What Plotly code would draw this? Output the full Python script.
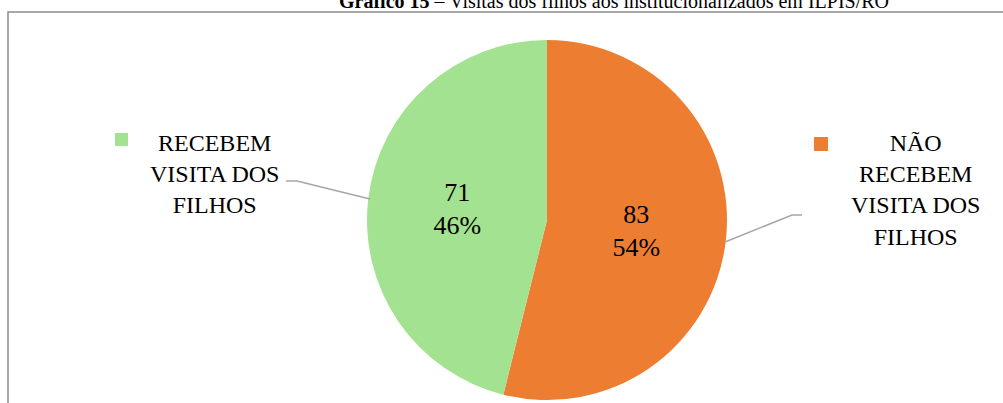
import plotly.graph_objects as go

# Visits from children to residents of long-stay institutions (ILPIs/RO)
categories = ["NÃO RECEBEM VISITA DOS FILHOS", "RECEBEM VISITA DOS FILHOS"]
values = [83, 71]
colors = ["#ED7D31", "#A2E290"]

W, H = 1003, 403
SERIF = "Liberation Serif"


def px(x):
    return x / W


def py(y):
    return 1 - y / H


# pie placement (pixels): centre and radius
cx, cy, r = 547, 220, 180

fig = go.Figure(
    go.Pie(
        labels=categories,
        values=values,
        sort=False,
        direction="clockwise",
        rotation=0,
        marker=dict(colors=colors, line=dict(width=0)),
        texttemplate="%{value}<br>%{percent:.0%}",
        textposition="inside",
        insidetextorientation="horizontal",
        textfont=dict(family=SERIF, size=26, color="#000000"),
        showlegend=False,
        hoverinfo="label+value+percent",
        domain=dict(x=[px(cx - r), px(cx + r)], y=[py(cy + r), py(cy - r)]),
    )
)

shapes = [
    # chart frame
    dict(type="rect", xref="paper", yref="paper",
         x0=px(8), x1=px(1012), y0=py(12), y1=py(415),
         line=dict(color="#8C8C8C", width=1.5), fillcolor="rgba(0,0,0,0)", layer="below"),
    # leader line to the left label
    dict(type="path", xref="paper", yref="paper",
         path=f"M {px(370)},{py(199)} L {px(297)},{py(181)} L {px(286)},{py(181)}",
         line=dict(color="#A6A6A6", width=1.5)),
    # leader line to the right label
    dict(type="path", xref="paper", yref="paper",
         path=f"M {px(725)},{py(242)} L {px(792)},{py(215)} L {px(802)},{py(215)}",
         line=dict(color="#A6A6A6", width=1.5)),
    # legend keys
    dict(type="rect", xref="paper", yref="paper",
         x0=px(115), x1=px(128), y0=py(146), y1=py(133),
         fillcolor=colors[1], line=dict(width=0)),
    dict(type="rect", xref="paper", yref="paper",
         x0=px(814), x1=px(828), y0=py(151), y1=py(137),
         fillcolor=colors[0], line=dict(width=0)),
]

label_font = dict(family=SERIF, size=24, color="#000000")
annotations = [
    dict(text="RECEBEM<br>VISITA DOS<br>FILHOS", x=px(214), y=py(174),
         xref="paper", yref="paper", xanchor="center", yanchor="middle",
         showarrow=False, font=label_font, align="center"),
    dict(text="NÃO<br>RECEBEM<br>VISITA DOS<br>FILHOS", x=px(915), y=py(190),
         xref="paper", yref="paper", xanchor="center", yanchor="middle",
         showarrow=False, font=label_font, align="center"),
    dict(text="<b>Gráfico 15</b> – Visitas dos filhos aos institucionalizados em ILPIS/RO",
         x=px(614), y=py(9), xref="paper", yref="paper", xanchor="center", yanchor="bottom",
         yshift=-5, showarrow=False, font=dict(family=SERIF, size=20, color="#000000")),
]

fig.update_layout(
    width=W, height=H,
    margin=dict(l=0, r=0, t=0, b=0),
    paper_bgcolor="#FFFFFF",
    plot_bgcolor="#FFFFFF",
    shapes=shapes,
    annotations=annotations,
)

fig.write_html("out.html")
